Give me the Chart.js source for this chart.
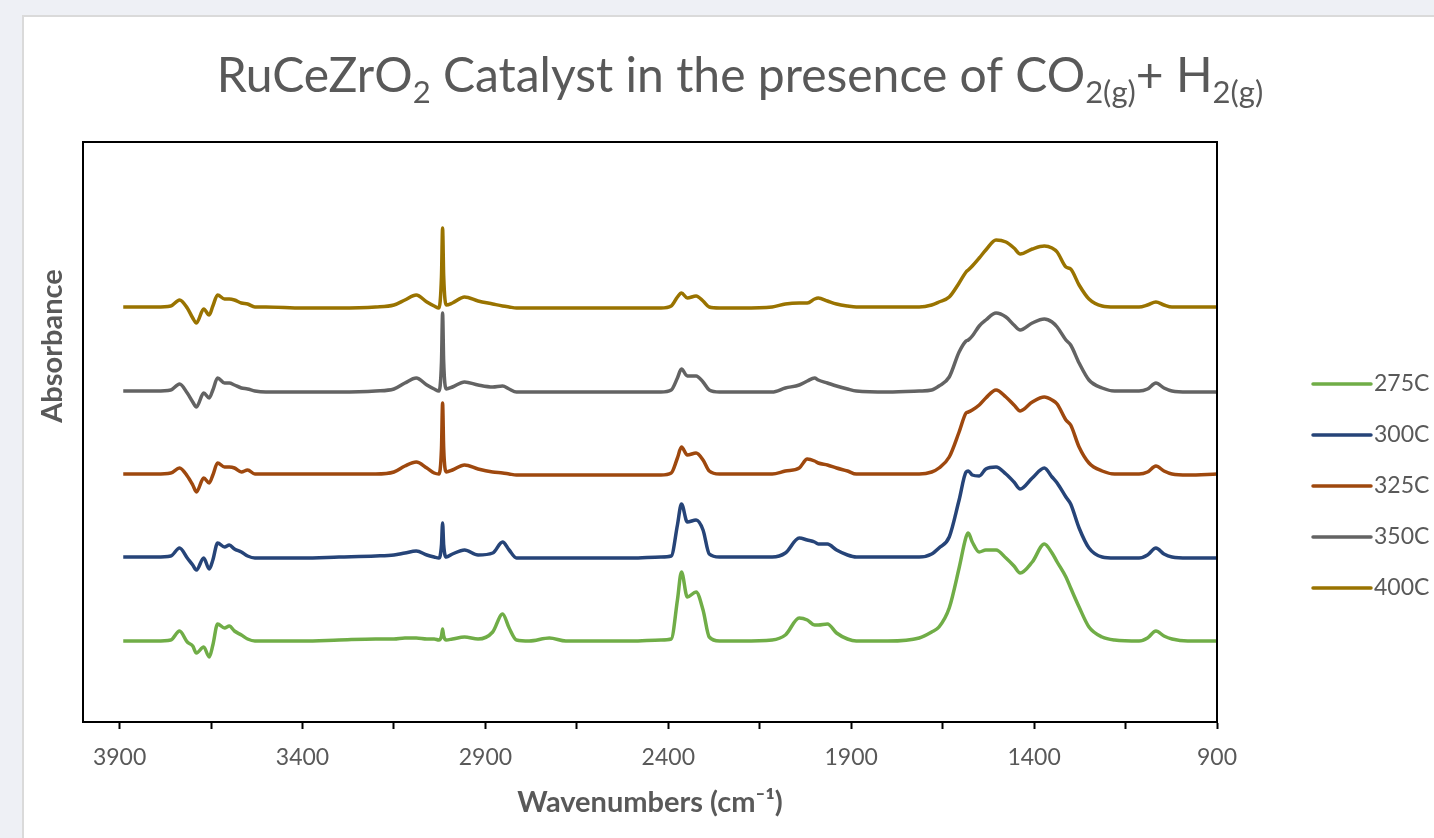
<!DOCTYPE html>
<html>
<head>
<meta charset="utf-8">
<script src="https://cdn.jsdelivr.net/npm/chart.js@4.4.1/dist/chart.umd.min.js"></script>
<style>
  html, body { margin: 0; padding: 0; background: #eef0f5; overflow: hidden; }
  #panel { position: absolute; left: 22px; top: 15px; width: 1420px; height: 830px; background: #fff; border: 2px solid #dadada; }
  #chart { position: absolute; left: 0; top: 0; }
</style>
</head>
<body>
<div id="panel"></div>
<canvas id="chart" width="1434" height="838"></canvas>
<script>
// wavenumbers (cm-1), shared by all spectra
const wavenumbers = [3890, 3800, 3760, 3736, 3715, 3700, 3690, 3670, 3655, 3645,
  3632, 3613, 3600, 3586, 3567, 3550, 3530, 3500, 3400, 3300,
  3200, 3150, 3120, 3089, 3060, 3040, 3027, 3020, 3017, 3014,
  3007, 2990, 2957, 2920, 2880, 2853, 2835, 2815, 2780, 2725,
  2680, 2600, 2500, 2420, 2392, 2375, 2364, 2348, 2324, 2305,
  2288, 2260, 2200, 2116, 2080, 2042, 2020, 2000, 1990, 1965,
  1940, 1910, 1886, 1800, 1714, 1680, 1660, 1632, 1605, 1586,
  1580, 1569, 1550, 1532, 1504, 1477, 1455, 1438, 1405, 1372,
  1351, 1337, 1313, 1300, 1277, 1250, 1214, 1180, 1113, 1090,
  1067, 1045, 1023, 980, 900]

// absorbance (offset spectra as plotted)
const abs275 = [0.081,0.081,0.082,0.091,0.080,0.076,0.069,0.075,0.065,0.077,
  0.098,0.094,0.096,0.091,0.087,0.083,0.081,0.081,0.081,0.082,
  0.083,0.083,0.084,0.084,0.083,0.083,0.082,0.086,0.093,0.086,
  0.082,0.083,0.085,0.083,0.090,0.108,0.094,0.082,0.081,0.084,
  0.081,0.081,0.081,0.082,0.083,0.122,0.150,0.125,0.130,0.112,
  0.085,0.081,0.081,0.082,0.087,0.104,0.102,0.097,0.097,0.098,
  0.089,0.083,0.081,0.081,0.084,0.090,0.095,0.114,0.154,0.185,
  0.189,0.180,0.170,0.172,0.172,0.164,0.156,0.149,0.160,0.178,
  0.169,0.160,0.145,0.134,0.115,0.095,0.085,0.082,0.081,0.084,
  0.091,0.086,0.083,0.081,0.081]
const abs300 = [0.165,0.165,0.166,0.174,0.164,0.157,0.152,0.164,0.153,0.162,
  0.179,0.175,0.177,0.173,0.170,0.166,0.164,0.164,0.164,0.165,
  0.166,0.167,0.169,0.171,0.167,0.165,0.164,0.177,0.199,0.177,
  0.165,0.168,0.172,0.167,0.169,0.180,0.172,0.164,0.164,0.164,
  0.164,0.164,0.164,0.165,0.166,0.197,0.218,0.200,0.202,0.192,
  0.168,0.165,0.165,0.165,0.169,0.184,0.182,0.180,0.178,0.178,
  0.172,0.167,0.165,0.165,0.165,0.168,0.174,0.185,0.222,0.250,
  0.251,0.247,0.246,0.253,0.255,0.248,0.240,0.233,0.244,0.254,
  0.245,0.239,0.225,0.218,0.194,0.174,0.165,0.164,0.164,0.167,
  0.174,0.168,0.165,0.164,0.164]
const abs325 = [0.248,0.248,0.249,0.254,0.246,0.237,0.230,0.244,0.239,0.247,
  0.259,0.255,0.255,0.254,0.250,0.252,0.248,0.248,0.248,0.248,
  0.248,0.250,0.256,0.260,0.254,0.249,0.248,0.274,0.319,0.274,
  0.250,0.252,0.257,0.253,0.250,0.249,0.248,0.247,0.247,0.247,
  0.247,0.247,0.247,0.247,0.249,0.264,0.275,0.267,0.269,0.262,
  0.251,0.248,0.248,0.248,0.251,0.254,0.263,0.261,0.259,0.257,
  0.254,0.251,0.248,0.248,0.248,0.250,0.254,0.265,0.290,0.309,
  0.310,0.312,0.317,0.324,0.332,0.325,0.317,0.311,0.320,0.325,
  0.322,0.318,0.302,0.297,0.275,0.259,0.251,0.248,0.248,0.250,
  0.256,0.251,0.248,0.247,0.248]
const abs350 = [0.331,0.331,0.332,0.338,0.329,0.320,0.315,0.329,0.324,0.332,
  0.344,0.339,0.339,0.337,0.334,0.333,0.331,0.330,0.330,0.330,
  0.331,0.333,0.339,0.344,0.337,0.333,0.331,0.360,0.409,0.360,
  0.333,0.335,0.340,0.337,0.335,0.336,0.333,0.330,0.330,0.330,
  0.330,0.330,0.330,0.330,0.332,0.344,0.353,0.346,0.346,0.340,
  0.332,0.330,0.330,0.330,0.334,0.337,0.341,0.344,0.342,0.339,
  0.336,0.333,0.331,0.330,0.331,0.332,0.336,0.345,0.370,0.381,
  0.382,0.386,0.396,0.402,0.409,0.405,0.397,0.392,0.399,0.403,
  0.400,0.395,0.382,0.377,0.359,0.342,0.334,0.331,0.331,0.333,
  0.339,0.334,0.331,0.330,0.330]
const abs400 = [0.415,0.415,0.416,0.422,0.414,0.404,0.399,0.413,0.407,0.416,
  0.427,0.423,0.423,0.422,0.419,0.418,0.415,0.415,0.414,0.414,
  0.415,0.417,0.422,0.427,0.420,0.416,0.414,0.446,0.494,0.446,
  0.417,0.419,0.425,0.421,0.418,0.416,0.415,0.414,0.414,0.414,
  0.414,0.414,0.414,0.414,0.416,0.425,0.429,0.424,0.426,0.421,
  0.415,0.414,0.414,0.415,0.418,0.419,0.419,0.423,0.424,0.421,
  0.418,0.416,0.415,0.415,0.415,0.417,0.420,0.425,0.439,0.450,
  0.452,0.456,0.464,0.472,0.482,0.480,0.474,0.468,0.473,0.476,
  0.474,0.470,0.455,0.453,0.437,0.423,0.416,0.415,0.415,0.417,
  0.420,0.417,0.415,0.415,0.415]

const seriesLabels = ['275C', '300C', '325C', '350C', '400C']
const seriesColors = ['#70ad47', '#264478', '#9e480e', '#636363', '#997300']
const majorTicks = [900, 1400, 1900, 2400, 2900, 3400, 3900]
const minorTicks = [1150, 1650, 2150, 2650, 3150, 3650]

// title pieces, sub = subscript
const titleParts = [
  { t: 'RuCeZrO' }, { t: '2', sub: true }, { t: ' Catalyst in the presence of CO' },
  { t: '2(g)', sub: true }, { t: '+ H' }, { t: '2(g)', sub: true }
]

const allSeries = [abs275, abs300, abs325, abs350, abs400]
const allTicks = majorTicks.concat(minorTicks).sort((a, b) => a - b)
const GREY = '#595959'
const FONT = 'Lato'

const decor = {
  id: 'decor',
  afterDatasetsDraw(chart) {
    const { ctx, chartArea: a } = chart
    ctx.save()
    ctx.strokeStyle = '#000'
    ctx.lineWidth = 2
    ctx.strokeRect(a.left, a.top, a.right - a.left, a.bottom - a.top)
    ctx.restore()
  },
  afterDraw(chart) {
    const ctx = chart.ctx
    ctx.save()
    ctx.fillStyle = GREY
    // title with subscripts
    const size = 48
    const subSize = Math.round(size * 0.64)
    let total = 0
    titleParts.forEach(p => {
      ctx.font = `${p.sub ? subSize : size}px ${FONT}`
      p.w = ctx.measureText(p.t).width
      total += p.w
    })
    let x = 740 - total / 2
    ctx.textBaseline = 'alphabetic'
    titleParts.forEach(p => {
      ctx.font = `${p.sub ? subSize : size}px ${FONT}`
      ctx.fillText(p.t, x, p.sub ? 92 + size * 0.22 : 92)
      x += p.w
    })
    // y axis title
    ctx.save()
    ctx.translate(53, 346)
    ctx.rotate(-Math.PI / 2)
    ctx.font = `bold 29px ${FONT}`
    ctx.textAlign = 'center'
    ctx.textBaseline = 'middle'
    ctx.fillText('Absorbance', 0, 0)
    ctx.restore()
    // legend
    ctx.font = `23px ${FONT}`
    ctx.textBaseline = 'middle'
    chart.data.datasets.forEach((ds, i) => {
      const y = 384 + i * 51
      ctx.strokeStyle = ds.borderColor
      ctx.lineWidth = 3.5
      ctx.lineCap = 'round'
      ctx.beginPath()
      ctx.moveTo(1313, y)
      ctx.lineTo(1371, y)
      ctx.stroke()
      ctx.fillText(ds.label, 1374, y)
    })
    ctx.restore()
  }
}

new Chart(document.getElementById('chart'), {
  type: 'line',
  data: {
    datasets: allSeries.map((vals, i) => ({
      label: seriesLabels[i],
      data: wavenumbers.map((w, j) => ({ x: w, y: vals[j] })),
      borderColor: seriesColors[i],
      backgroundColor: seriesColors[i],
      borderWidth: 3.5,
      pointRadius: 0,
      fill: false,
      cubicInterpolationMode: 'monotone'
    }))
  },
  options: {
    responsive: false,
    animation: false,
    layout: { padding: { left: 83, right: 217, top: 142, bottom: 0 } },
    plugins: { legend: { display: false }, tooltip: { enabled: false } },
    scales: {
      x: {
        type: 'linear',
        reverse: true,
        min: 900,
        max: 4000,
        afterBuildTicks: s => { s.ticks = allTicks.map(v => ({ value: v })) },
        afterFit: s => { s.height = 116 },
        ticks: {
          autoSkip: false,
          maxRotation: 0,
          padding: 15,
          color: GREY,
          font: { family: FONT, size: 23 },
          callback: v => majorTicks.includes(v) ? String(v) : ''
        },
        grid: { drawOnChartArea: false, drawTicks: true, tickLength: 7, tickWidth: 2, tickColor: '#000' },
        border: { display: true, color: '#000', width: 2 },
        title: {
          display: true,
          text: 'Wavenumbers (cm⁻¹)',
          color: GREY,
          font: { family: FONT, size: 29, weight: 'bold' },
          padding: { top: 0, bottom: 18 }
        }
      },
      y: { display: false, min: 0, max: 0.58 }
    }
  },
  plugins: [decor]
})
</script>
</body>
</html>
